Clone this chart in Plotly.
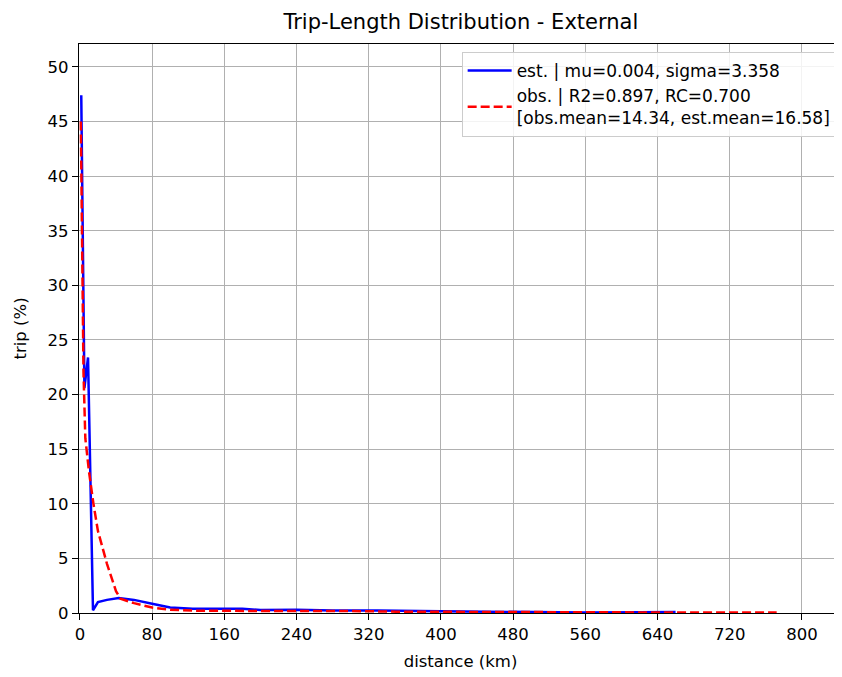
import plotly.graph_objects as go

est_x = [1.5, 5, 9, 14.5, 20, 30, 43, 60, 80, 100, 125, 150, 180, 200, 240, 280, 330, 400, 480, 560, 620, 660]
est_y = [47.4, 20.6, 23.4, 0.25, 1.0, 1.2, 1.37, 1.2, 0.85, 0.5, 0.4, 0.38, 0.38, 0.28, 0.3, 0.22, 0.22, 0.15, 0.08, 0.05, 0.07, 0.1]

obs_x = [1, 4, 6, 10, 15, 20, 30, 40, 45, 60, 80, 100, 130, 160, 200, 250, 300, 350, 400, 480, 560, 640, 720, 772]
obs_y = [45, 22, 16, 13, 10, 7.5, 4.5, 2.0, 1.3, 0.9, 0.5, 0.3, 0.2, 0.2, 0.15, 0.2, 0.18, 0.12, 0.1, 0.08, 0.05, 0.05, 0.05, 0.05]

est_label = "est. | mu=0.004, sigma=3.358"
obs_label = "obs. | R2=0.897, RC=0.700<br>[obs.mean=14.34, est.mean=16.58]"

x_ticks = list(range(0, 801, 80))
y_ticks = list(range(0, 51, 5))

FONT = "DejaVu Sans"
FS = 16.5

fig = go.Figure()
fig.add_trace(go.Scatter(x=est_x, y=est_y, mode="lines", name=est_label,
                         line=dict(color="#0000ff", width=2.5)))
fig.add_trace(go.Scatter(x=obs_x, y=obs_y, mode="lines", name=obs_label,
                         line=dict(color="#ff0000", width=2.5, dash="9px,4px")))

axis_common = dict(showline=True, linecolor="black", linewidth=1.3,
                   ticks="outside", ticklen=6, tickwidth=1.3, tickcolor="black",
                   showgrid=True, gridcolor="#b0b0b0", gridwidth=1.3, zeroline=False,
                   tickfont=dict(family=FONT, size=FS, color="black"))

fig.update_layout(
    width=834, height=669,
    margin=dict(l=71, r=0, t=36, b=64, pad=0),
    paper_bgcolor="white", plot_bgcolor="white",
    font=dict(family=FONT, size=FS, color="black"),
    title=dict(text="Trip-Length Distribution - External", x=0.543, xanchor="center",
               y=0.98, yanchor="middle", font=dict(family=FONT, size=21, color="black")),
    xaxis=dict(range=[-1, 844.4], tickvals=x_ticks, mirror=True,
               title=dict(text="distance (km)", font=dict(family=FONT, size=FS), standoff=12),
               **axis_common),
    yaxis=dict(range=[0, 52.1], tickvals=y_ticks, mirror=False,
               title=dict(text="trip (%)", font=dict(family=FONT, size=FS), standoff=16),
               **axis_common),
    legend=dict(x=0.993, y=0.986, xanchor="right", yanchor="top",
                bgcolor="rgba(255,255,255,0.85)", bordercolor="#cccccc", borderwidth=1,
                font=dict(family=FONT, size=17, color="black"),
                itemwidth=44),
    showlegend=True,
)

fig.write_html("out.html")
